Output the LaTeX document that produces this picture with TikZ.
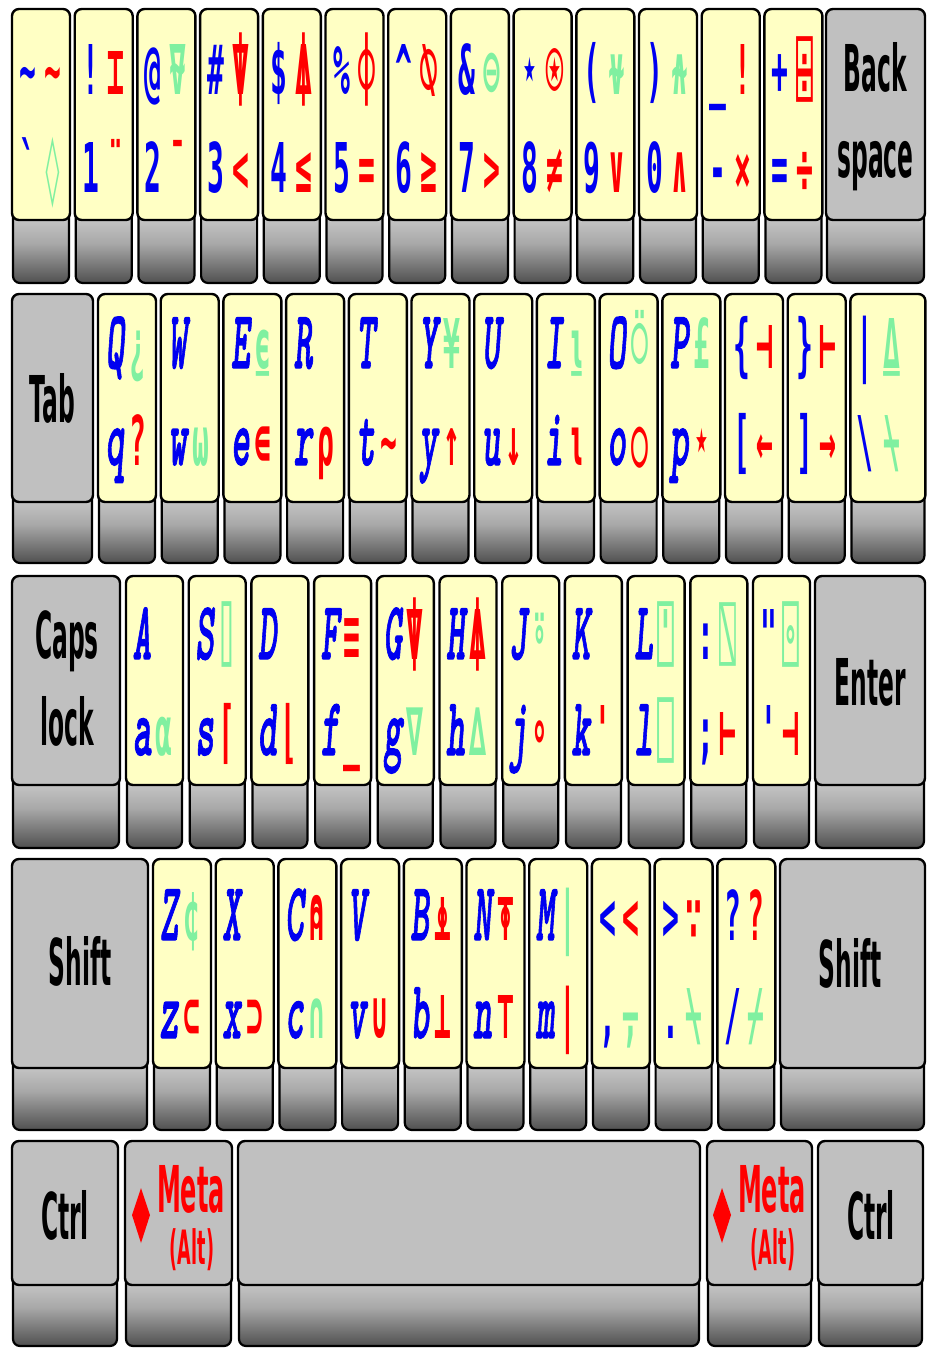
\documentclass[tikz,border=0pt]{standalone}
\usepackage{fontspec}
\usepackage{graphicx}
\setmainfont{DejaVu Sans}
\newfontfamily\symfont{DejaVu Sans Mono}
\newfontfamily\labfont{DejaVu Sans}
\newfontfamily\letfont{lmmonolt10-boldoblique.otf}[FakeBold=1.6]
\definecolor{kblue}{HTML}{0000F0}
\definecolor{kred}{HTML}{FF0000}
\definecolor{kgreen}{HTML}{80F0A0}
\definecolor{kyellow}{HTML}{FFFFC4}
\definecolor{kgray}{HTML}{C0C0C0}
\definecolor{sktop}{HTML}{D6D6D6}
\definecolor{skmid}{HTML}{A8A8A8}
\definecolor{skbot}{HTML}{505050}
\newcommand\kl[1]{\scalebox{1.08}[2.5]{\letfont\fontsize{33}{33}\selectfont #1}}
\newcommand\ks[1]{\scalebox{1}[2.45]{\symfont\bfseries\fontsize{28}{28}\selectfont #1}}
\newcommand\bL[1]{\textcolor{kblue}{\kl{#1}}}
\newcommand\bS[1]{\textcolor{kblue}{\ks{#1}}}
\newcommand\rS[1]{\textcolor{kred}{\ks{#1}}}
\newcommand\gS[1]{\textcolor{kgreen}{\ks{#1}}}
\newcommand\klab[1]{\scalebox{0.78}[2.15]{\labfont\bfseries\fontsize{30}{30}\selectfont #1}}
\newcommand\kmeta[1]{\scalebox{0.8}[2.15]{\labfont\bfseries\fontsize{30}{30}\selectfont #1}}
\newcommand\kalt[1]{\scalebox{0.8}[2.15]{\labfont\bfseries\fontsize{22}{22}\selectfont #1}}
\tikzset{
  facebox/.style={draw=black, line width=2.4pt, rounded corners=7pt, inner sep=0pt, outer sep=0pt},
  skirtbox/.style={draw=black, line width=2.2pt, rounded corners=7pt, top color=sktop, bottom color=skbot, middle color=skmid, inner sep=0pt, outer sep=0pt},
  chr/.style={anchor=base, inner sep=0pt, outer sep=0pt},
  lab/.style={anchor=base, inner sep=0pt, outer sep=0pt},
}
% #1 name, #2 left x, #3 width, #4 top, #5 face bottom, #6 skirt bottom, #7 fill
\newcommand\kface[7]{%
  \node[skirtbox, minimum width={#3-2}, minimum height={#6-#5+16}, anchor=south west] (#1s) at ({#2+1},#6) {};
  \node[facebox, fill=#7, minimum width=#3, minimum height={#5-#4}, anchor=north west] (#1) at (#2,#4) {};}
\newcommand\kput[5]{\if\relax\detokenize{#5}\relax\else\node[chr] (#1#2) at ([shift={(#3,#4)}]#1.north west) {#5};\fi}
\newcommand\kq[5]{\kput{#1}{ul}{\xa}{\ya}{#2}\kput{#1}{ur}{\xb}{\ya}{#3}\kput{#1}{ll}{\xa}{\yb}{#4}\kput{#1}{lr}{\xb}{\yb}{#5}}
\begin{document}
\begin{tikzpicture}[x=1pt,y=-1pt]
\useasboundingbox (0,0) rectangle (927,1348);
% ---------------- row 1
\def\rt{9}\def\rf{220}\def\rb{283}
\kface{kgrave}{12}{58}{\rt}{\rf}{\rb}{kyellow}
\kface{k1}{74.7}{58}{\rt}{\rf}{\rb}{kyellow}
\kface{k2}{137.4}{58}{\rt}{\rf}{\rb}{kyellow}
\kface{k3}{200.1}{58}{\rt}{\rf}{\rb}{kyellow}
\kface{k4}{262.8}{58}{\rt}{\rf}{\rb}{kyellow}
\kface{k5}{325.5}{58}{\rt}{\rf}{\rb}{kyellow}
\kface{k6}{388.2}{58}{\rt}{\rf}{\rb}{kyellow}
\kface{k7}{450.9}{58}{\rt}{\rf}{\rb}{kyellow}
\kface{k8}{513.6}{58}{\rt}{\rf}{\rb}{kyellow}
\kface{k9}{576.3}{58}{\rt}{\rf}{\rb}{kyellow}
\kface{k0}{639}{58}{\rt}{\rf}{\rb}{kyellow}
\kface{kminus}{701.7}{58}{\rt}{\rf}{\rb}{kyellow}
\kface{kequal}{764.4}{58}{\rt}{\rf}{\rb}{kyellow}
\kface{kbksp}{826}{99}{\rt}{\rf}{\rb}{kgray}
\def\xa{16}\def\xb{41}\def\ya{86}\def\yb{184}
\kq{kgrave}{\bS{\char"7E}}{\rS{\char"7E}}{\bS{\char"60}}{\gS{◊}}
\kq{k1}{\bS{!}}{\rS{⌶}}{\bS{1}}{\rS{¨}}
\kq{k2}{\bS{@}}{\gS{⍫}}{\bS{2}}{\rS{¯}}
\kq{k3}{\bS{\#}}{\rS{⍒}}{\bS{3}}{\rS{<}}
\kq{k4}{\bS{\$}}{\rS{⍋}}{\bS{4}}{\rS{≤}}
\kq{k5}{\bS{\%}}{\rS{⌽}}{\bS{5}}{\rS{=}}
\kq{k6}{\bS{\char"5E}}{\rS{⍉}}{\bS{6}}{\rS{≥}}
\kq{k7}{\bS{\&}}{\gS{⊖}}{\bS{7}}{\rS{>}}
\kq{k8}{\bS{⋆}}{\rS{⍟}}{\bS{8}}{\rS{≠}}
\kq{k9}{\bS{(}}{\gS{⍱}}{\bS{9}}{\rS{∨}}
\kq{k0}{\bS{)}}{\gS{⍲}}{\bS{0}}{\rS{∧}}
\kq{kminus}{\bS{\char"5F}}{\rS{!}}{\bS{\char"2D}}{\rS{×}}
\kq{kequal}{\bS{+}}{\rS{⌹}}{\bS{=}}{\rS{÷}}
\node[lab] (lback) at (875.5,92) {\klab{Back}};
\node[lab] (lspace) at (875.5,178) {\klab{space}};
% ---------------- row 2
\def\rt{294}\def\rf{502}\def\rb{563}
\kface{ktab}{12}{81}{\rt}{\rf}{\rb}{kgray}
\kface{kq}{98}{58}{\rt}{\rf}{\rb}{kyellow}
\kface{kw}{160.7}{58}{\rt}{\rf}{\rb}{kyellow}
\kface{ke}{223.4}{58}{\rt}{\rf}{\rb}{kyellow}
\kface{kr}{286.1}{58}{\rt}{\rf}{\rb}{kyellow}
\kface{kt}{348.8}{58}{\rt}{\rf}{\rb}{kyellow}
\kface{ky}{411.5}{58}{\rt}{\rf}{\rb}{kyellow}
\kface{ku}{474.2}{58}{\rt}{\rf}{\rb}{kyellow}
\kface{ki}{536.9}{58}{\rt}{\rf}{\rb}{kyellow}
\kface{ko}{599.6}{58}{\rt}{\rf}{\rb}{kyellow}
\kface{kp}{662.3}{58}{\rt}{\rf}{\rb}{kyellow}
\kface{klbr}{725}{58}{\rt}{\rf}{\rb}{kyellow}
\kface{krbr}{787.7}{58}{\rt}{\rf}{\rb}{kyellow}
\kface{kbsl}{850.4}{75}{\rt}{\rf}{\rb}{kyellow}
\def\xa{17}\def\xb{40}\def\ya{74}\def\yb{171}
\kq{kq}{\bL{Q}}{\gS{¿}}{\bL{q}}{\rS{?}}
\kq{kw}{\bL{W}}{}{\bL{w}}{\gS{⍵}}
\kq{ke}{\bL{E}}{\gS{⍷}}{\bL{e}}{\rS{∊}}
\kq{kr}{\bL{R}}{}{\bL{r}}{\rS{⍴}}
\kq{kt}{\bL{T}}{}{\bL{t}}{\rS{∼}}
\kq{ky}{\bL{Y}}{\gS{¥}}{\bL{y}}{\rS{↑}}
\kq{ku}{\bL{U}}{}{\bL{u}}{\rS{↓}}
\kq{ki}{\bL{I}}{\gS{⍸}}{\bL{i}}{\rS{⍳}}
\kq{ko}{\bL{O}}{\gS{⍥}}{\bL{o}}{\rS{○}}
\kq{kp}{\bL{P}}{\gS{£}}{\bL{p}}{\rS{⋆}}
\kq{klbr}{\bS{\{}}{\rS{⊣}}{\bS{[}}{\rS{←}}
\kq{krbr}{\bS{\}}}{\rS{⊢}}{\bS{]}}{\rS{→}}
\def\xa{15}\def\xb{42}
\kq{kbsl}{\bS{|}}{\gS{⍙}}{\bS{\char"5C}}{\gS{⍀}}
\node[lab] (ltab) at (52.5,422) {\klab{Tab}};
% ---------------- row 3
\def\rt{576}\def\rf{785}\def\rb{848}
\kface{kcaps}{12}{108}{\rt}{\rf}{\rb}{kgray}
\kface{ka}{126}{57}{\rt}{\rf}{\rb}{kyellow}
\kface{ks}{188.7}{57}{\rt}{\rf}{\rb}{kyellow}
\kface{kd}{251.4}{57}{\rt}{\rf}{\rb}{kyellow}
\kface{kf}{314.1}{57}{\rt}{\rf}{\rb}{kyellow}
\kface{kg}{376.8}{57}{\rt}{\rf}{\rb}{kyellow}
\kface{kh}{439.5}{57}{\rt}{\rf}{\rb}{kyellow}
\kface{kj}{502.2}{57}{\rt}{\rf}{\rb}{kyellow}
\kface{kk}{564.9}{57}{\rt}{\rf}{\rb}{kyellow}
\kface{kl}{627.6}{57}{\rt}{\rf}{\rb}{kyellow}
\kface{ksemi}{690.3}{57}{\rt}{\rf}{\rb}{kyellow}
\kface{kquote}{753}{57}{\rt}{\rf}{\rb}{kyellow}
\kface{kenter}{815}{110}{\rt}{\rf}{\rb}{kgray}
\def\xa{16}\def\xb{38}\def\ya{83}\def\yb{179}
\kq{ka}{\bL{A}}{}{\bL{a}}{\gS{⍺}}
\kq{ks}{\bL{S}}{\gS{⌷}}{\bL{s}}{\rS{⌈}}
\kq{kd}{\bL{D}}{}{\bL{d}}{\rS{⌊}}
\kq{kf}{\bL{F}}{\rS{≡}}{\bL{f}}{\rS{\char"5F}}
\kq{kg}{\bL{G}}{\rS{⍒}}{\bL{g}}{\gS{∇}}
\kq{kh}{\bL{H}}{\rS{⍋}}{\bL{h}}{\gS{∆}}
\kq{kj}{\bL{J}}{\gS{⍤}}{\bL{j}}{\rS{∘}}
\kq{kk}{\bL{K}}{}{\bL{k}}{\rS{\char"27}}
\kq{kl}{\bL{L}}{\gS{⍞}}{\bL{l}}{\gS{⎕}}
\kq{ksemi}{\bS{:}}{\gS{⍂}}{\bS{;}}{\rS{⊢}}
\kq{kquote}{\bS{\char"22}}{\gS{⌻}}{\bS{\char"27}}{\rS{⊣}}
\node[lab] (lcaps) at (67,658) {\klab{Caps}};
\node[lab] (llock) at (67,745) {\klab{lock}};
\node[lab] (lenter) at (870,705) {\klab{Enter}};
% ---------------- row 4
\def\rt{859}\def\rf{1068}\def\rb{1130}
\kface{klshift}{12}{136}{\rt}{\rf}{\rb}{kgray}
\kface{kz}{153}{58}{\rt}{\rf}{\rb}{kyellow}
\kface{kx}{215.7}{58}{\rt}{\rf}{\rb}{kyellow}
\kface{kc}{278.4}{58}{\rt}{\rf}{\rb}{kyellow}
\kface{kv}{341.1}{58}{\rt}{\rf}{\rb}{kyellow}
\kface{kb}{403.8}{58}{\rt}{\rf}{\rb}{kyellow}
\kface{kn}{466.5}{58}{\rt}{\rf}{\rb}{kyellow}
\kface{km}{529.2}{58}{\rt}{\rf}{\rb}{kyellow}
\kface{kcomma}{591.9}{58}{\rt}{\rf}{\rb}{kyellow}
\kface{kdot}{654.6}{58}{\rt}{\rf}{\rb}{kyellow}
\kface{kslash}{717.3}{58}{\rt}{\rf}{\rb}{kyellow}
\kface{krshift}{780}{145}{\rt}{\rf}{\rb}{kgray}
\def\xa{16}\def\xb{39}\def\ya{81}\def\yb{179}
\kq{kz}{\bL{Z}}{\gS{¢}}{\bL{z}}{\rS{⊂}}
\kq{kx}{\bL{X}}{}{\bL{x}}{\rS{⊃}}
\kq{kc}{\bL{C}}{\rS{⍝}}{\bL{c}}{\gS{∩}}
\kq{kv}{\bL{V}}{}{\bL{v}}{\rS{∪}}
\kq{kb}{\bL{B}}{\rS{⍎}}{\bL{b}}{\rS{⊥}}
\kq{kn}{\bL{N}}{\rS{⍕}}{\bL{n}}{\rS{⊤}}
\kq{km}{\bL{M}}{\gS{|}}{\bL{m}}{\rS{|}}
\kq{kcomma}{\bS{<}}{\rS{<}}{\bS{,}}{\gS{⍪}}
\kq{kdot}{\bS{>}}{\rS{∵}}{\bS{.}}{\gS{⍀}}
\kq{kslash}{\bS{?}}{\rS{?}}{\bS{/}}{\gS{⌿}}
\node[lab] (llshift) at (80,985) {\klab{Shift}};
\node[lab] (lrshift) at (850,987) {\klab{Shift}};
% ---------------- row 5
\def\rt{1141}\def\rf{1285}\def\rb{1346}
\kface{klctrl}{12}{106}{\rt}{\rf}{\rb}{kgray}
\kface{klmeta}{125}{107}{\rt}{\rf}{\rb}{kgray}
\kface{kspace}{238}{462}{\rt}{\rf}{\rb}{kgray}
\kface{krmeta}{707}{105}{\rt}{\rf}{\rb}{kgray}
\kface{krctrl}{818}{105}{\rt}{\rf}{\rb}{kgray}
\node[lab] (llctrl) at (65,1239) {\klab{Ctrl}};
\node[lab] (lrctrl) at (871,1239) {\klab{Ctrl}};
\node[lab, text=kred] (llmeta) at (191,1212) {\kmeta{Meta}};
\node[lab, text=kred] (llalt) at (192,1264) {\kalt{(Alt)}};
\node[lab, text=kred] (lrmeta) at (772,1212) {\kmeta{Meta}};
\node[lab, text=kred] (lralt) at (773,1264) {\kalt{(Alt)}};
\fill[kred] (141,1188) -- (150,1215) -- (141,1243) -- (132,1215) -- cycle;
\fill[kred] (722,1188) -- (731,1215) -- (722,1243) -- (713,1215) -- cycle;
\end{tikzpicture}
\end{document}
